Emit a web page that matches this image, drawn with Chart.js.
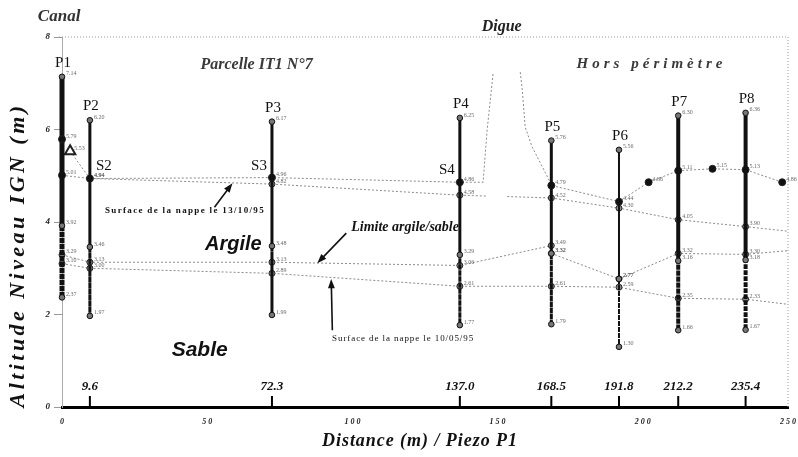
<!DOCTYPE html>
<html lang="fr">
<head>
<meta charset="utf-8">
<title>Coupe piézométrique</title>
<script src="https://cdn.jsdelivr.net/npm/chart.js@4.4.1/dist/chart.umd.min.js"></script>
<style>
  html, body { margin: 0; padding: 0; background: #fff; }
  #cadre { width: 798px; height: 457px; }
</style>
</head>
<body>
<div id="cadre"><canvas id="coupe" width="798" height="457"></canvas></div>
<script>
// piezometres : nom, distance a P1 (m), haut du tube, fin de la partie pleine, fond
const piezoNoms = ['P1', 'P2', 'P3', 'P4', 'P5', 'P6', 'P7', 'P8'];
const piezoDist = [0, 9.6, 72.3, 137.0, 168.5, 191.8, 212.2, 235.4];
const piezoHaut = [7.14, 6.20, 6.17, 6.25, 5.76, 5.56, 6.30, 6.36];
const piezoPlein = [3.92, 3.46, 3.48, 3.29, 3.32, 2.77, 3.16, 3.18];
const piezoFond = [2.37, 1.97, 1.99, 1.77, 1.79, 1.30, 1.66, 1.67];

// sondages
const sondageNoms = ['S2', 'S3', 'S4'];
const sondageDist = [9.6, 72.3, 137.0];
const sondageAlt = [4.94, 4.96, 4.86];

// surface de la nappe le 13/10/95 (passe par le profil de la digue)
const nappeOctDist = [0, 9.6, 72.3, 137.0, 145.0, 146.4, 148.5, 153.0, 157.8, 158.5, 159.5, 161.9, 167.4, 168.5, 191.8, 202.0, 212.2, 224.0, 235.4, 248.0];
const nappeOctAlt = [5.01, 4.94, 4.96, 4.86, 4.86, 5.99, 7.24, null, 7.24, 6.85, 6.05, 5.62, 4.95, 4.79, 4.44, 4.86, 5.11, 5.15, 5.13, 4.86];

// niveau intermediaire (depuis le triangle de P1)
const niveauDist = [2.8, 9.6, 72.3, 137.0, 146.4, 150.0, 153.3, 168.5, 191.8, 212.2, 235.4, 250];
const niveauAlt = [5.53, 4.94, 4.82, 4.58, 4.56, null, 4.55, 4.52, 4.30, 4.05, 3.90, 3.80];

// limite argile / sable
const limiteDist = [0, 9.6, 72.3, 137.0, 168.5, 168.5, 191.8, 212.2, 235.4, 250];
const limiteAlt = [3.29, 3.13, 3.13, 3.06, 3.49, 3.32, 2.77, 3.32, 3.30, 3.38];

// surface de la nappe le 10/05/95
const nappeMaiDist = [0, 9.6, 72.3, 137.0, 168.5, 191.8, 212.2, 235.4, 250];
const nappeMaiAlt = [3.10, 3.00, 2.89, 2.61, 2.61, 2.59, 2.35, 2.33, 2.22];

// mesure isolee sur P1
const p1MesureDist = [0];
const p1MesureAlt = [5.79];

const xTicks = [0, 50, 100, 150, 200, 250];
const yTicks = [0, 2, 4, 6, 8];

// epaisseur des tubes
const largeurTube = [5, 3, 3, 3, 3, 2, 4, 4];

const pts = (xs, ys) => xs.map((v, i) => ({ x: v, y: ys[i] }));
const serif = '"Liberation Serif", "Times New Roman", serif';
const sans = '"Liberation Sans", Arial, sans-serif';

// ecrit un texte, etire avec letterSpacing si une largeur est donnee
function texte(ctx, s, px, py, police, o) {
    o = o || {};
    ctx.save();
    ctx.font = police;
    ctx.fillStyle = o.couleur || '#111';
    ctx.textBaseline = 'middle';
    ctx.textAlign = 'left';
    let w = ctx.measureText(s).width;
    if (o.largeur) {
        ctx.letterSpacing = ((o.largeur - w) / s.length) + 'px';
        w = o.largeur;
    }
    ctx.translate(px, py);
    if (o.rot) ctx.rotate(o.rot);
    let dx = 0;
    if (o.align === 'center') dx = -w / 2;
    if (o.align === 'right') dx = -w;
    ctx.fillText(s, dx, 0);
    ctx.restore();
}

function fleche(ctx, x1, y1, x2, y2) {
    const ang = Math.atan2(y2 - y1, x2 - x1);
    ctx.save();
    ctx.strokeStyle = '#111';
    ctx.fillStyle = '#111';
    ctx.lineWidth = 1.6;
    ctx.beginPath();
    ctx.moveTo(x1, y1);
    ctx.lineTo(x2 - 6 * Math.cos(ang), y2 - 6 * Math.sin(ang));
    ctx.stroke();
    ctx.beginPath();
    ctx.moveTo(x2, y2);
    ctx.lineTo(x2 - 10 * Math.cos(ang - 0.35), y2 - 10 * Math.sin(ang - 0.35));
    ctx.lineTo(x2 - 10 * Math.cos(ang + 0.35), y2 - 10 * Math.sin(ang + 0.35));
    ctx.closePath();
    ctx.fill();
    ctx.restore();
}

// cadre pointille, textes, fleches, reperes de distance
const habillage = {
    id: 'habillage',
    beforeDatasetsDraw(chart) {
        const { ctx, chartArea: a, scales: { y } } = chart;
        ctx.save();
        ctx.strokeStyle = '#9a9a9a';
        ctx.lineWidth = 1;
        ctx.setLineDash([1, 2]);
        ctx.beginPath();
        ctx.moveTo(a.left - 3, y.getPixelForValue(8));
        ctx.lineTo(a.right, y.getPixelForValue(8));
        ctx.moveTo(a.right, a.top);
        ctx.lineTo(a.right, a.bottom);
        ctx.stroke();
        ctx.restore();
    },
    afterDatasetsDraw(chart) {
        const { ctx } = chart;
        // petites cotes a cote des points
        chart.data.datasets.forEach((ds, i) => {
            if (!ds.etiquettes) return;
            chart.getDatasetMeta(i).data.forEach((el, j) => {
                const d = ds.data[j];
                if (!d || d.y === null || el.options.radius === 0) return;
                texte(ctx, d.y.toFixed(2), el.x + 4, el.y - 3, '6px ' + serif, { couleur: '#6a6a6a' });
            });
        });
    },
    afterDraw(chart) {
        const { ctx, scales: { x, y } } = chart;
        const X = v => x.getPixelForValue(v);
        const Y = v => y.getPixelForValue(v);

        // noms des piezometres
        piezoNoms.forEach((n, i) => {
            texte(ctx, n, X(piezoDist[i]) + 1, Y(piezoHaut[i]) - 14, '15px ' + serif, { align: 'center' });
        });
        // sondages
        sondageNoms.forEach((n, i) => {
            const px = X(sondageDist[i]);
            const py = Y(sondageAlt[i]) - 12;
            if (i === 0) texte(ctx, n, px + 6, py, '15px ' + serif);
            else texte(ctx, n, px - 5, py, '15px ' + serif, { align: 'right' });
        });

        // reperes des distances sur l'axe
        ctx.save();
        ctx.strokeStyle = '#000';
        ctx.lineWidth = 2;
        piezoDist.forEach((d, i) => {
            if (i === 0) return;
            ctx.beginPath();
            ctx.moveTo(X(d), Y(0));
            ctx.lineTo(X(d), Y(0) - 11);
            ctx.stroke();
            texte(ctx, d.toFixed(1), X(d), Y(0) - 20, 'italic bold 13px ' + serif, { align: 'center' });
        });
        ctx.restore();

        // titres
        texte(ctx, 'Canal', X(-1), Y(8.45), 'italic bold 17px ' + serif, { align: 'center', couleur: '#333' });
        texte(ctx, 'Digue', X(151.4), Y(8.22), 'italic bold 16px ' + serif, { align: 'center', couleur: '#222' });
        texte(ctx, 'Parcelle IT1 N°7', X(67), Y(7.39), 'italic bold 16px ' + serif, { align: 'center', couleur: '#3a3a3a' });
        texte(ctx, 'Hors périmètre', X(203), Y(7.42), 'italic bold 15px ' + serif, { align: 'center', couleur: '#3a3a3a', largeur: 150 });
        texte(ctx, 'Argile', X(59), Y(3.52), 'italic bold 20px ' + sans, { align: 'center' });
        texte(ctx, 'Sable', X(47.4), Y(1.23), 'italic bold 21px ' + sans, { align: 'center' });
        texte(ctx, 'Limite argile/sable', X(99.6), Y(3.89), 'italic bold 14px ' + serif);
        texte(ctx, 'Surface de la nappe le 13/10/95', X(14.8), Y(4.24), 'bold 9px ' + serif, { largeur: 160 });
        texte(ctx, 'Surface de la nappe le 10/05/95', X(93), Y(1.47), '9px ' + serif, { largeur: 142 });

        fleche(ctx, X(52.5), Y(4.32), X(58.7), Y(4.84));
        fleche(ctx, X(97.9), Y(3.76), X(87.9), Y(3.11));
        fleche(ctx, X(93.1), Y(1.66), X(92.7), Y(2.77));

        // titres des axes
        texte(ctx, 'Altitude Niveau IGN (m)', 18, 255, 'italic bold 22px ' + serif, { align: 'center', rot: -Math.PI / 2, largeur: 305 });
        texte(ctx, 'Distance (m) / Piezo P1', 420, 441, 'italic bold 18px ' + serif, { align: 'center', largeur: 196 });
    }
};

const ligne = (data, extra) => Object.assign({
    data: data,
    showLine: true,
    borderColor: '#8a8a8a',
    borderWidth: 1,
    borderDash: [2, 2],
    pointStyle: 'circle',
    pointRadius: 3,
    pointBackgroundColor: '#8a8a8a',
    pointBorderColor: '#222',
    pointBorderWidth: 1,
    spanGaps: false,
    order: 2,
    etiquettes: true
}, extra);

const tubes = piezoNoms.map((nom, i) => ({
    label: nom,
    data: [
        { x: piezoDist[i], y: piezoHaut[i] },
        { x: piezoDist[i], y: piezoPlein[i] },
        { x: piezoDist[i], y: piezoFond[i] }
    ],
    showLine: true,
    clip: false,
    borderColor: '#111',
    borderWidth: largeurTube[i],
    segment: { borderDash: c => c.p0DataIndex === 1 ? [3, 3] : undefined },
    pointRadius: 2.8,
    pointBackgroundColor: '#777',
    pointBorderColor: '#111',
    pointBorderWidth: 1,
    order: 1,
    etiquettes: true
}));

document.addEventListener('DOMContentLoaded', function () {
    const ctxCoupe = document.getElementById('coupe').getContext('2d');

    new Chart(ctxCoupe, {
        type: 'scatter',
        data: {
            datasets: [
                ...tubes,
                ligne(pts(p1MesureDist, p1MesureAlt), { showLine: false, clip: false, pointRadius: 3.5, pointBackgroundColor: '#111', order: 0 }),
                ligne(pts(nappeOctDist, nappeOctAlt), {
                    label: 'Surface de la nappe le 13/10/95',
                    clip: false,
                    pointRadius: c => (c.raw && c.raw.x > 140 && c.raw.x < 168) ? 0 : 3.5,
                    pointBackgroundColor: '#111'
                }),
                ligne(pts(niveauDist, niveauAlt), {
                    label: 'Niveau',
                    clip: false,
                    pointStyle: c => c.dataIndex === 0 ? 'triangle' : 'circle',
                    pointRadius: c => c.dataIndex === 0 ? 6 : ((c.raw && c.raw.x > 140 && c.raw.x < 160) || c.dataIndex === niveauDist.length - 1 ? 0 : 3),
                    pointBackgroundColor: c => c.dataIndex === 0 ? '#fff' : '#8a8a8a',
                    pointBorderWidth: c => c.dataIndex === 0 ? 2 : 1
                }),
                ligne(pts(limiteDist, limiteAlt), {
                    label: 'Limite argile/sable',
                    clip: false,
                    pointRadius: c => c.dataIndex === limiteDist.length - 1 ? 0 : 3
                }),
                ligne(pts(nappeMaiDist, nappeMaiAlt), {
                    label: 'Surface de la nappe le 10/05/95',
                    clip: false,
                    pointRadius: c => c.dataIndex === nappeMaiDist.length - 1 ? 0 : 3
                })
            ]
        },
        options: {
            responsive: false,
            animation: false,
            layout: { padding: { left: 0, right: 10, top: 37, bottom: 0 } },
            plugins: {
                legend: { display: false },
                tooltip: { enabled: false }
            },
            scales: {
                x: {
                    type: 'linear',
                    min: 0,
                    max: 250,
                    afterFit: s => { s.height = 50; s.paddingLeft = 0; s.paddingRight = 0; },
                    afterBuildTicks: s => { s.ticks = xTicks.map(v => ({ value: v })); },
                    grid: { display: false, drawTicks: false },
                    border: { display: true, color: '#000', width: 3 },
                    ticks: {
                        padding: 10,
                        maxRotation: 0,
                        color: '#222',
                        font: { family: serif, style: 'italic', weight: 'bold', size: 8 },
                        callback: v => String(v).split('').join(' ')
                    }
                },
                y: {
                    min: 0,
                    max: 8,
                    afterFit: s => { s.width = 62; s.paddingTop = 0; s.paddingBottom = 0; },
                    afterBuildTicks: s => { s.ticks = yTicks.map(v => ({ value: v })); },
                    grid: { drawOnChartArea: false, drawTicks: true, tickLength: 8, color: '#999' },
                    border: { display: true, color: '#aaa', dash: [1, 2] },
                    ticks: {
                        padding: 4,
                        color: '#222',
                        font: { family: serif, style: 'italic', weight: 'bold', size: 9 }
                    }
                }
            }
        },
        plugins: [habillage]
    });
});
</script>
</body>
</html>
